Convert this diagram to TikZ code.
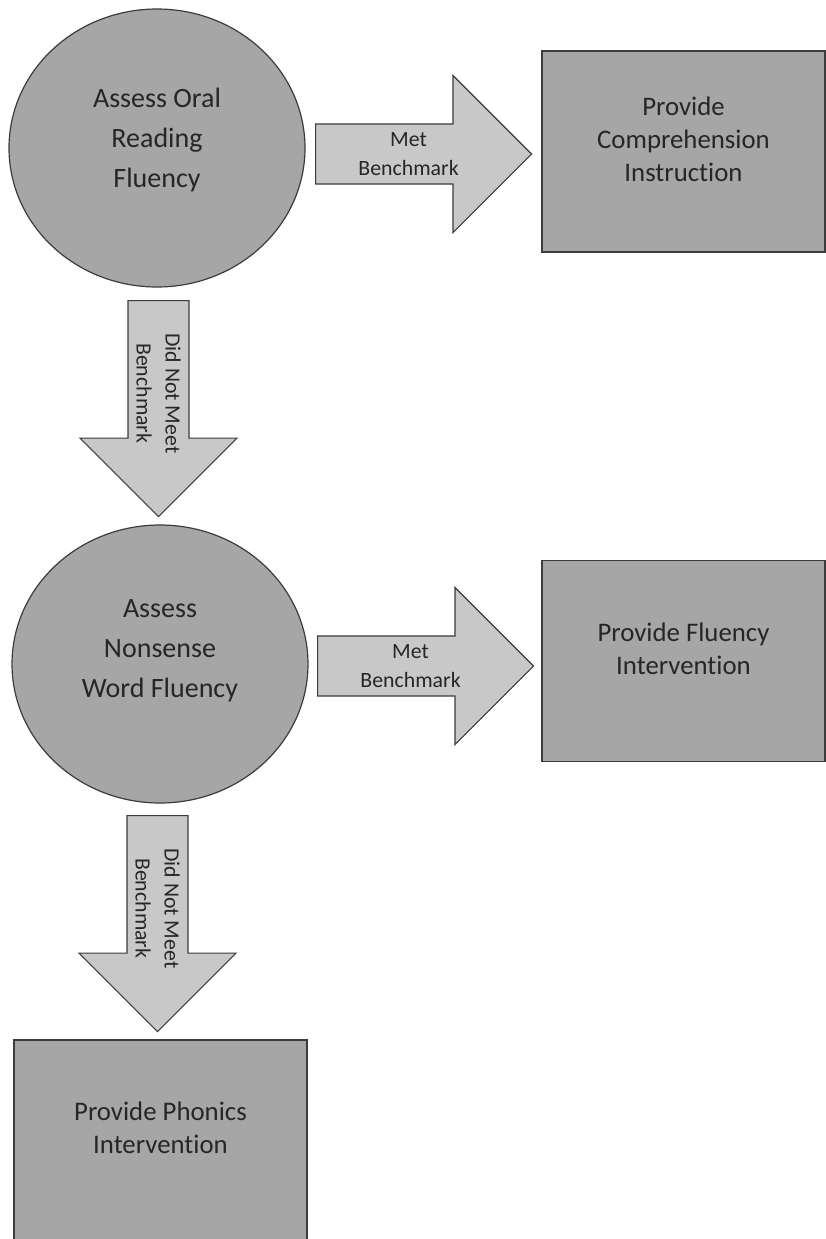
\documentclass[tikz,border=0pt]{standalone}
\usepackage{fontspec}
\setmainfont{Carlito}[RawFeature={-liga,-clig,-dlig,-rlig,-calt}]
\usetikzlibrary{shapes.arrows,shapes.geometric}

\definecolor{stepgray}{RGB}{166,166,166}
\definecolor{arrowgray}{RGB}{200,200,200}
\definecolor{edgegray}{RGB}{60,60,60}
\definecolor{textgray}{RGB}{38,38,38}

\tikzstyle{assess}=[ellipse,draw=edgegray,fill=stepgray,line width=0.6pt,minimum width=148pt,minimum height=139pt,inner sep=0pt]
\tikzstyle{provide}=[rectangle,draw=edgegray,fill=stepgray,line width=0.6pt,minimum width=141.5pt,minimum height=100.5pt,inner sep=0pt]
\tikzstyle{steptext}=[text=textgray,align=center,font=\fontsize{14}{20}\selectfont]
\tikzstyle{boxtext}=[text=textgray,align=center,font=\fontsize{13.4}{16.5}\selectfont]
\tikzstyle{bench}=[single arrow,draw=edgegray,fill=arrowgray,line width=0.6pt,single arrow head extend=19.5pt,minimum width=78.5pt,minimum height=108pt,inner sep=1pt,anchor=tail,text=textgray,align=center,font=\fontsize{10.9}{14.5}\selectfont]

\begin{document}
\begin{tikzpicture}[x=0.5pt, y=-0.5pt]
		\useasboundingbox (0,0) rectangle (826,1239);
		\clip (0,0) rectangle (826,1239);
		% steps
		\node [assess]  (orf)    at (157,148)    [label={[steptext,yshift=4pt]center:{Assess Oral\\Reading\\Fluency}}] {};
		\node [assess]  (nwf)    at (160,664)    [label={[steptext,yshift=6.5pt]center:{Assess\\Nonsense\\Word Fluency}}] {};
		\node [provide] (compr)  at (683.5,151.5) [label={[boxtext,yshift=6pt]center:{Provide\\Comprehension\\Instruction}}] {};
		\node [provide] (fluint) at (683.5,661)  [label={[boxtext,yshift=6pt]center:{Provide Fluency\\Intervention}}] {};
		\node [provide, minimum width=146.5pt] (phonint) at (160.5,1140.5) [label={[boxtext,yshift=6.5pt]center:{Provide Phonics\\Intervention}}] {};

		% decisions
		\node [bench]              (met1) at (315,154)   {Met\\Benchmark};
		\node [bench]              (met2) at (317,666)   {Met\\Benchmark};
		\node [bench, rotate=-90]  (not1) at (158.5,300) {Did Not Meet\\Benchmark};
		\node [bench, rotate=-90]  (not2) at (157.5,815) {Did Not Meet\\Benchmark};
	\end{tikzpicture}
\end{document}
